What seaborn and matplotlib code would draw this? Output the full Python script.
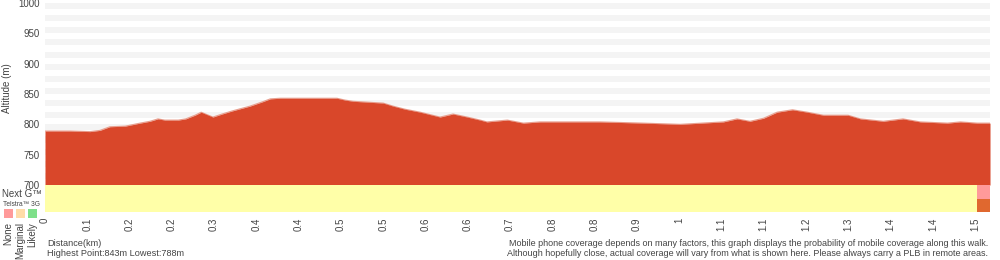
import matplotlib
matplotlib.use("Agg")
import matplotlib.pyplot as plt
import seaborn as sns
import pandas as pd
from matplotlib.patches import Rectangle

# ---- data ----
dist_km = [0.000, 0.041, 0.073, 0.089, 0.105, 0.130, 0.154, 0.170, 0.183, 0.194,
           0.216, 0.228, 0.243, 0.253, 0.272, 0.287, 0.303, 0.332, 0.352, 0.365,
           0.381, 0.473, 0.486, 0.499, 0.548, 0.564, 0.583, 0.608, 0.640, 0.661,
           0.684, 0.705, 0.716, 0.749, 0.775, 0.802, 0.830, 0.899, 0.969, 1.029,
           1.099, 1.121, 1.142, 1.164, 1.186, 1.211, 1.235, 1.261, 1.301, 1.321,
           1.358, 1.390, 1.418, 1.462, 1.483, 1.510, 1.531]
elev_m = [789, 789, 788, 790, 796, 797, 802, 805, 809, 807,
          807, 809, 815, 820, 812, 817, 822, 830, 837, 842,
          843, 843, 840, 838, 835, 830, 825, 820, 812, 817,
          812, 807, 804, 807, 802, 804, 804, 804, 802, 800,
          804, 809, 805, 810, 820, 824, 820, 815, 815, 809,
          805, 809, 804, 802, 804, 802, 802]

tick_step_km = 0.0685
tick_labels = ["0", "0.1", "0.2", "0.2", "0.3", "0.4", "0.4", "0.5", "0.5", "0.6",
               "0.6", "0.7", "0.8", "0.8", "0.9", "1", "1.1", "1.1", "1.2", "1.3",
               "1.4", "1.4", "1.5"]

# coverage segments (start km, end km, status)
nextg_start = [0.0, 1.510]
nextg_end = [1.510, 1.531]
nextg_status = ["Marginal", "None"]
tel3g_start = [0.0, 1.510]
tel3g_end = [1.510, 1.531]
tel3g_status = ["Marginal", "Poor"]

legend_labels = ["None", "Marginal", "Likely"]

# ---- style ----
sns.set_theme(style="white")
plt.rcParams['font.family'] = ['Liberation Sans', 'DejaVu Sans']
txt = "#444444"
fill_col = "#d9472a"
band_col = {"Marginal": "#ffffa8", "None": "#ff9a9a", "Poor": "#e0682f"}
legend_col = ["#ff9a9a", "#ffdca8", "#7ee08a"]

W, H = 1000, 260
fig = plt.figure(figsize=(W / 100, H / 100), dpi=100)
L, R = 45, 990
ax = fig.add_axes([L / W, 1 - 185 / H, (R - L) / W, (185 - 3) / H])
cov = fig.add_axes([L / W, 1 - 212 / H, (R - L) / W, 27 / H], sharex=ax)

# alternating grid bands
for lo in range(710, 1000, 20):
    ax.axhspan(lo, lo + 10, color="#f4f4f4", lw=0, zorder=0)

df = pd.DataFrame({"dist": dist_km, "elev": elev_m})
ax.fill_between(df["dist"], 700, df["elev"], color=fill_col, lw=0, zorder=2)
sns.lineplot(data=df, x="dist", y="elev", ax=ax, color="#e8a090", lw=0.8, zorder=1)

ax.set_xlim(0, max(dist_km))
ax.set_ylim(700, 1000)
ax.set_yticks(range(700, 1001, 50))
ax.tick_params(axis="y", labelsize=7, labelcolor=txt, length=0, pad=4)
ax.tick_params(axis="x", bottom=False, labelbottom=False)
ax.set_xlabel("")
ax.set_ylabel("Altitude (m)", fontsize=7, color=txt, labelpad=6)
ax.yaxis.set_label_coords(-33 / (R - L), 0.53)
for s in ax.spines.values():
    s.set_visible(False)

# coverage rows
for row, (st, en, stat) in enumerate([(nextg_start, nextg_end, nextg_status),
                                       (tel3g_start, tel3g_end, tel3g_status)]):
    cov.barh([row] * len(st), [e - s for s, e in zip(st, en)], left=st,
             height=1.0, color=[band_col[c] for c in stat], lw=0)
cov.set_ylim(1.5, -0.5)
cov.set_yticks([])
ticks = [i * tick_step_km for i in range(len(tick_labels))]
cov.set_xticks(ticks)
cov.set_xticklabels(tick_labels, rotation=90, fontsize=7, color=txt)
cov.tick_params(axis="x", length=0, pad=4)
for s in cov.spines.values():
    s.set_visible(False)

# left side labels
fig.text(2 / W, 1 - 194 / H, "Next G\u2122", fontsize=7, color=txt, va="center", ha="left")
fig.text(3 / W, 1 - 204 / H, "Telstra\u2122 3G", fontsize=4.8, color=txt, va="center", ha="left")
for i, (lab, c) in enumerate(zip(legend_labels, legend_col)):
    x0 = 4 + i * 12
    fig.patches.append(Rectangle((x0 / W, 1 - 218 / H), 9 / W, 9 / H,
                                 transform=fig.transFigure, color=c, lw=0))
    fig.text((x0 + 4.5) / W, 1 - 222 / H, lab, rotation=90, fontsize=7,
             color=txt, ha="center", va="top")

fs = 6.6
fig.text(47 / W, 1 - 243 / H, "Distance(km)", fontsize=fs, color=txt, va="center")
fig.text(47 / W, 1 - 253 / H, "Highest Point:%dm Lowest:%dm" % (max(elev_m), min(elev_m)),
         fontsize=fs, color=txt, va="center")
fig.text(988 / W, 1 - 243 / H,
         "Mobile phone coverage depends on many factors, this graph displays the probability of mobile coverage along this walk.",
         fontsize=6.5, color=txt, va="center", ha="right")
fig.text(988 / W, 1 - 253 / H,
         "Although hopefully close, actual coverage will vary from what is shown here. Please always carry a PLB in remote areas.",
         fontsize=6.5, color=txt, va="center", ha="right")

fig.savefig("out.png", dpi=100, facecolor="white")
